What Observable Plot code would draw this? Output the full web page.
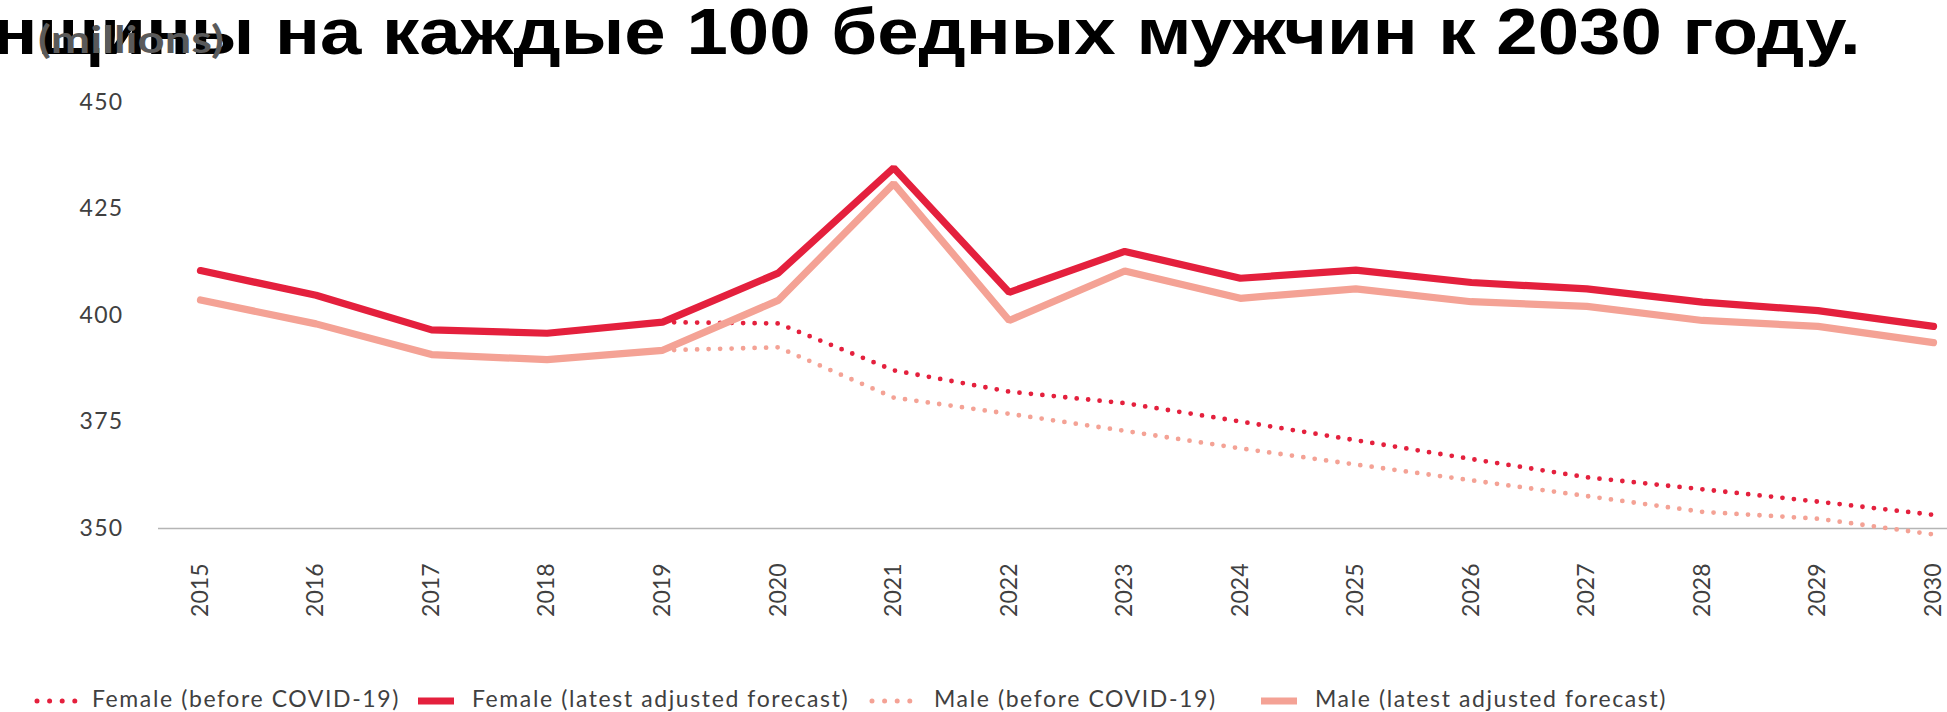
<!DOCTYPE html>
<html>
<head>
<meta charset="utf-8">
<script src="https://cdn.jsdelivr.net/npm/d3@7"></script>
<script src="https://cdn.jsdelivr.net/npm/@observablehq/plot@0.6"></script>
<style>
  html, body { margin: 0; padding: 0; background: #fff; }
  #wrap { position: relative; width: 1947px; height: 712px; overflow: hidden; background: #fff; }
  #chart { position: absolute; left: 0; top: 0; }
  #title { position: absolute; right: 86px; top: -1.5px; white-space: nowrap; font-family: "Liberation Sans", Arial, sans-serif; font-weight: bold; font-size: 65px; line-height: 65px; color: #000; transform: scaleX(1.145); transform-origin: right center; }
  #units { position: absolute; left: 38px; top: 19px; white-space: nowrap; font-family: Lato, sans-serif; font-weight: bold; font-size: 38px; line-height: 38px; color: #5a5a5a; transform: scaleX(1.24); transform-origin: left center; }
  .lg { position: absolute; white-space: nowrap; font-family: Lato, sans-serif; font-size: 23px; line-height: 23px; color: #404040; letter-spacing: 1.6px; top: 686.6px; }
  .mk { position: absolute; top: 695px; }
</style>
</head>
<body>
<div id="wrap">
  <div id="chart"></div>
  <div id="title"></div>
  <div id="units"></div>
  <div id="legend"></div>
</div>
<script>
// ---- data ----
const years = [2015, 2016, 2017, 2018, 2019, 2020, 2021, 2022, 2023, 2024, 2025, 2026, 2027, 2028, 2029, 2030];
const femaleLatest = [410.5, 404.7, 396.6, 395.8, 398.4, 409.9, 434.6, 405.4, 415.0, 408.7, 410.6, 407.7, 406.2, 403.1, 401.1, 397.4];
const maleLatest   = [403.6, 398.0, 390.8, 389.6, 391.8, 403.5, 430.9, 398.8, 410.4, 404.0, 406.2, 403.2, 402.1, 398.8, 397.4, 393.6];
const beforeYears  = [2019, 2020, 2021, 2022, 2023, 2024, 2025, 2026, 2027, 2028, 2029, 2030];
const femaleBefore = [398.4, 398.1, 387.1, 382.1, 379.4, 375.1, 370.7, 366.3, 362.0, 359.2, 356.3, 353.2];
const maleBefore   = [391.8, 392.5, 380.7, 376.9, 372.9, 368.8, 365.0, 361.3, 357.6, 353.9, 352.3, 348.6];
const yTicks = [350, 375, 400, 425, 450];
const seriesNames = ["Female (before COVID-19)", "Female (latest adjusted forecast)", "Male (before COVID-19)", "Male (latest adjusted forecast)"];
const titleText = "нщины на каждые 100 бедных мужчин к 2030 году.";
const unitsText = "(millions)";

const RED = "#e4203d";
const SALMON = "#f4a295";

const tFL = years.map((x, i) => ({x, y: femaleLatest[i]}));
const tML = years.map((x, i) => ({x, y: maleLatest[i]}));
const tFB = beforeYears.map((x, i) => ({x, y: femaleBefore[i]}));
const tMB = beforeYears.map((x, i) => ({x, y: maleBefore[i]}));

const chart = Plot.plot({
  width: 1947,
  height: 660,
  marginLeft: 158,
  marginRight: 0,
  marginTop: 101.7,
  marginBottom: 132,
  x: {domain: [2015, 2030], range: [200, 1933]},
  y: {domain: [350, 450]},
  style: {fontFamily: "Lato, sans-serif", fontSize: "23px", color: "#404040", background: "transparent", overflow: "visible"},
  marks: [
    Plot.ruleY([350], {stroke: "#b5b5b5", strokeWidth: 1.6}),
    Plot.axisY({ticks: yTicks, tickSize: 0, tickPadding: 35, label: null, fill: "#404040"}),
    Plot.axisX({ticks: years, tickSize: 0, tickPadding: 35, tickRotate: -90, label: null, tickFormat: d => String(d), fill: "#404040"}),
    Plot.line(tFB, {x: "x", y: "y", stroke: RED, strokeWidth: 4.8, strokeDasharray: "0 11.5", strokeLinecap: "round"}),
    Plot.line(tFL, {x: "x", y: "y", stroke: RED, strokeWidth: 7.2, strokeLinejoin: "miter"}),
    Plot.line(tMB, {x: "x", y: "y", stroke: SALMON, strokeWidth: 4.8, strokeDasharray: "0 11.5", strokeLinecap: "round"}),
    Plot.line(tML, {x: "x", y: "y", stroke: SALMON, strokeWidth: 7.2, strokeLinejoin: "miter"})
  ]
});
document.getElementById("chart").appendChild(chart);
d3.select(chart).selectAll('g[aria-label="y-axis tick label"] text').attr("letter-spacing", "1.3px");

document.getElementById("title").textContent = titleText;
document.getElementById("units").textContent = unitsText;

// legend
const legend = document.getElementById("legend");
const items = [
  {name: seriesNames[0], color: RED, dotted: true, mx: 33, tx: 92},
  {name: seriesNames[1], color: RED, dotted: false, mx: 418, tx: 472},
  {name: seriesNames[2], color: SALMON, dotted: true, mx: 868, tx: 934},
  {name: seriesNames[3], color: SALMON, dotted: false, mx: 1261, tx: 1315}
];
for (const it of items) {
  const ns = "http://www.w3.org/2000/svg";
  const svg = document.createElementNS(ns, "svg");
  svg.setAttribute("class", "mk");
  svg.setAttribute("width", 50);
  svg.setAttribute("height", 12);
  svg.style.left = it.mx + "px";
  const ln = document.createElementNS(ns, "line");
  ln.setAttribute("y1", 6); ln.setAttribute("y2", 6);
  if (it.dotted) {
    ln.setAttribute("x1", 4); ln.setAttribute("x2", 46);
    ln.setAttribute("stroke-width", 5);
    ln.setAttribute("stroke-dasharray", "0 12.6");
    ln.setAttribute("stroke-linecap", "round");
  } else {
    ln.setAttribute("x1", 0); ln.setAttribute("x2", 36);
    ln.setAttribute("stroke-width", 7);
  }
  ln.setAttribute("stroke", it.color);
  svg.appendChild(ln);
  legend.appendChild(svg);
  const sp = document.createElement("div");
  sp.className = "lg";
  sp.style.left = it.tx + "px";
  sp.textContent = it.name;
  legend.appendChild(sp);
}
</script>
</body>
</html>
